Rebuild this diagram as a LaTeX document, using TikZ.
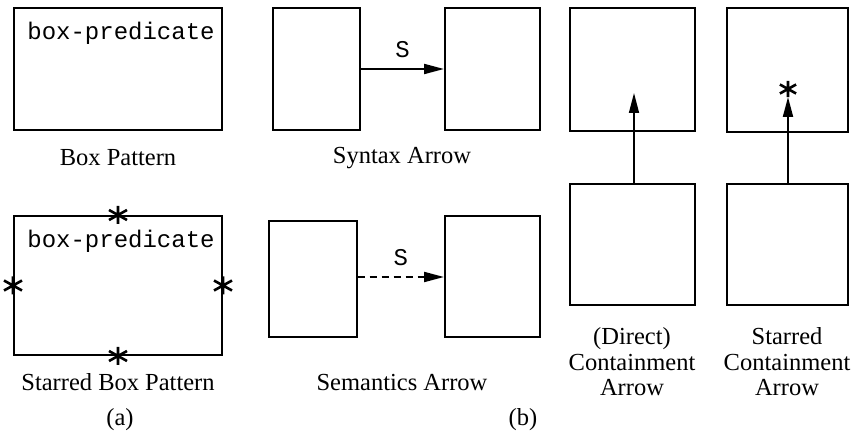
\documentclass[tikz,border=0pt]{standalone}
\usepackage{fontspec}
\setmainfont{Liberation Serif}
\setmonofont{Liberation Mono}
\usetikzlibrary{arrows.meta}
\begin{document}
\begin{tikzpicture}[x=1pt,y=-1pt,
  boxnode/.style={draw,line width=2pt,inner sep=0pt,rectangle},
  lbl/.style={font=\fontsize{24.5}{25.5}\selectfont,inner sep=0pt,align=center},
  mono/.style={font=\fontsize{24}{26}\ttfamily\selectfont,inner sep=0pt},
  arr/.style={line width=2pt,-{Triangle[length=20pt,width=10pt]}},
  star/.pic={\draw[line width=2.6pt] (0,-9)--(0,9) (-9,-5)--(9,5) (-9,5)--(9,-5);}]
\useasboundingbox (0,0) rectangle (852,438);
% (a)
\node[boxnode,minimum width=208pt,minimum height=122pt] (bp) at (118,69) {};
\node[mono] (bpt) at (121,33) {box-predicate};
\node[lbl] (bpl) at (118,158) {Box Pattern};
\node[boxnode,minimum width=208pt,minimum height=139pt] (sb) at (118,285.5) {};
\node[mono] (sbt) at (121,241) {box-predicate};
\node[lbl] (sbl) at (118,382) {Starred Box Pattern};
\pic at (sb.north) {star};
\pic at (sb.south) {star};
\pic at (sb.west) {star};
\pic at (sb.east) {star};
\node[lbl] (la) at (120,420) {(a)};
% syntax arrow
\node[boxnode,minimum width=87pt,minimum height=122pt] (s1) at (316.5,69) {};
\node[boxnode,minimum width=95pt,minimum height=122pt] (s2) at (492.5,69) {};
\draw[arr] (s1.east) -- (s2.west) node[midway,above=10pt,mono] (sS) {S};
\node[lbl] (sl) at (402,158) {Syntax Arrow};
% semantics arrow
\node[boxnode,minimum width=88pt,minimum height=116pt] (m1) at (312.5,279.5) {};
\node[boxnode,minimum width=95pt,minimum height=121pt] (m2) at (492.5,277) {};
\draw[arr,dashed,dash pattern=on 7pt off 5pt] (m1.east|-m2.west) -- (m2.west) node[midway,above=10pt,mono,solid] (mS) {S};
\node[lbl] (ml) at (402,383) {Semantics Arrow};
\node[lbl] (lb) at (523,420) {(b)};
% containment arrows
\node[boxnode,minimum width=125pt,minimum height=123pt] (c1t) at (632.5,69.5) {};
\node[boxnode,minimum width=125pt,minimum height=121pt] (c1b) at (632.5,244.5) {};
\coordinate (c1tip) at (634,93);
\draw[arr,line width=1.5pt] (c1b.north-|c1tip) -- (c1tip);
\node[lbl] (c1l) at (632,362) {(Direct)\\Containment\\Arrow};
\node[boxnode,minimum width=121pt,minimum height=124pt] (c2t) at (787.5,70) {};
\node[boxnode,minimum width=121pt,minimum height=121pt] (c2b) at (787.5,244.5) {};
\coordinate (c2tip) at (788,97);
\draw[arr] (c2b.north-|c2tip) -- (c2tip);
\pic[scale=0.9] at (788,89) {star};
\node[lbl] (c2l) at (787,362) {Starred\\Containment\\Arrow};
\end{tikzpicture}
\end{document}
